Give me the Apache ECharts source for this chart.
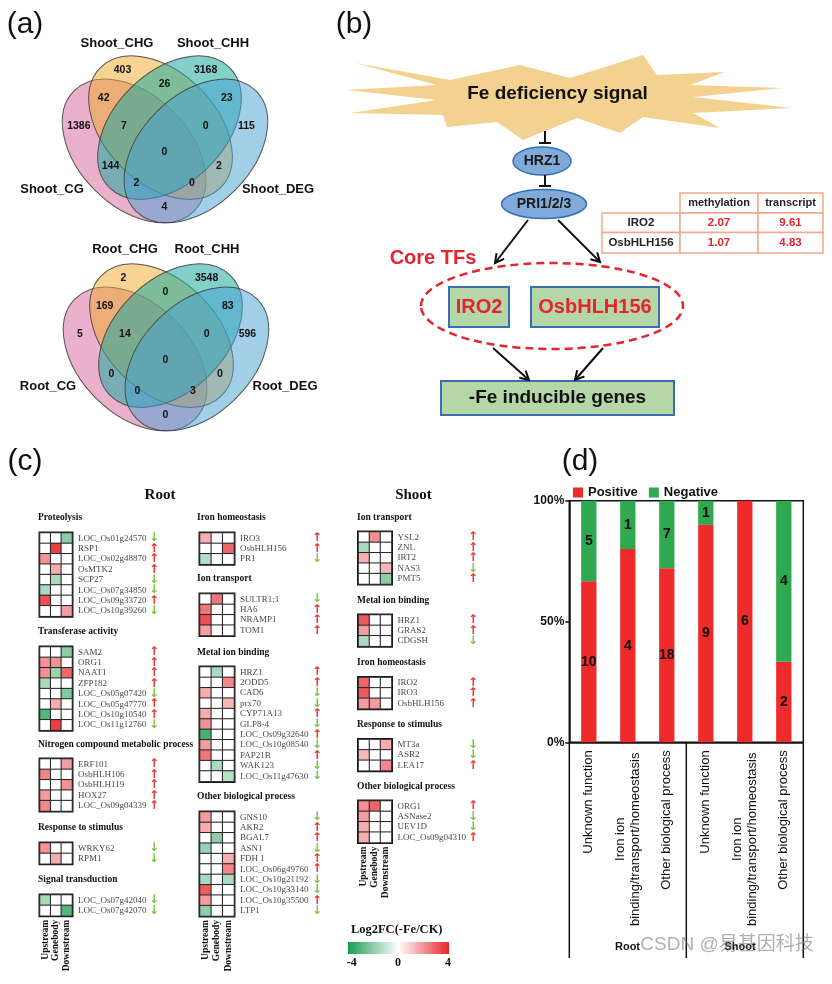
<!DOCTYPE html>
<html><head><meta charset="utf-8">
<script src="https://cdn.jsdelivr.net/npm/echarts/dist/echarts.min.js"></script>
<style>html,body{margin:0;padding:0;background:#fff}#c{width:832px;height:984px}</style>
</head><body><div id="c"></div>
<script>
// ================= DATA =================
// (a) Venn diagrams: region order = CHG, CHH, CHG&CHH, CG&CHG, CHH&DEG, CG, CG&CHG&CHH, CHG&CHH&DEG, DEG, all, CG&CHH, CHG&DEG, CG&CHH&DEG, CG&CHG&DEG, CG&DEG
const vennSetsShoot = ['Shoot_CG', 'Shoot_CHG', 'Shoot_CHH', 'Shoot_DEG'];
const vennSetsRoot = ['Root_CG', 'Root_CHG', 'Root_CHH', 'Root_DEG'];
const vennCountsShoot = [403, 3168, 26, 42, 23, 1386, 7, 0, 115, 0, 144, 2, 2, 0, 4];
const vennCountsRoot = [2, 3548, 0, 169, 83, 5, 14, 0, 596, 0, 0, 0, 0, 3, 0];

// (b) core TF table
const coreTFs = ['IRO2', 'OsbHLH156'];
const tfMethylation = [2.07, 1.07];
const tfTranscript = [9.61, 4.83];

// (c) heatmaps: Log2FC(-Fe/CK) for Upstream, Genebody, Downstream; direction u = up, d = down
const hmColumns = ['Upstream', 'Genebody', 'Downstream'];
const rProteoGenes = ['LOC_Os01g24570', 'RSP1', 'LOC_Os02g48870', 'OsMTK2', 'SCP27', 'LOC_Os07g34850', 'LOC_Os09g33720', 'LOC_Os10g39260'];
const rProteoLfc = [[0, 0, -2], [0, 3.5, 0], [2, 0, 0], [0, 1.5, 0], [0, -1.5, 0], [-1.5, 0, 0], [3.2, 0, 0], [0, 0, 1.8]];
const rProteoDir = 'duuuddud';
const rTransfGenes = ['SAM2', 'ORG1', 'NAAT1', 'ZFP182', 'LOC_Os05g07420', 'LOC_Os05g47770', 'LOC_Os10g10540', 'LOC_Os11g12760'];
const rTransfLfc = [[0, 0, -2], [2, 2, 0], [2, -1.8, 2.8], [-1.5, 0, 0], [0, 0, -2.2], [0, 1.5, 0], [-3, 0, 0], [0, 3.5, 0]];
const rTransfDir = 'uuuuduud';
const rNitroGenes = ['ERF101', 'OsbHLH106', 'OsbHLH119', 'HOX27', 'LOC_Os09g04339'];
const rNitroLfc = [[0, 0, 1.8], [2.2, 0, 0], [0, 0, 2], [1.8, 0, 0], [2.2, 0, 0]];
const rNitroDir = 'uuuuu';
const rRespGenes = ['WRKY62', 'RPM1'];
const rRespLfc = [[2, 0, 0], [0, 1.5, 0]];
const rRespDir = 'dd';
const rSignalGenes = ['LOC_Os07g42040', 'LOC_Os07g42070'];
const rSignalLfc = [[-1.5, 0, 0], [0, 0, -3]];
const rSignalDir = 'dd';
const rIronGenes = ['IRO3', 'OsbHLH156', 'PR1'];
const rIronLfc = [[1.5, 0, 0], [0, 0, 2.8], [-1.3, 0, 0]];
const rIronDir = 'uud';
const rIonGenes = ['SULTR1;1', 'HA6', 'NRAMP1', 'TOM1'];
const rIonLfc = [[0, 2.5, 0], [2.5, 0, 0], [3.2, 0, 0], [1.8, 0, 0]];
const rIonDir = 'duuu';
const rMetalGenes = ['HRZ1', '2ODD5', 'CAD6', 'prx70', 'CYP71A13', 'GLP8-4', 'LOC_Os09g32640', 'LOC_Os10g08540', 'PAP21B', 'WAK123', 'LOC_Os11g47630'];
const rMetalLfc = [[0, -1.5, 0], [0, 0, 2.2], [1.5, 0, 0], [0, 0, 1.3], [1.5, 0, 0], [2, 0, 0], [-3.2, 0, 0], [1.8, 0, 0], [2.5, 0, 0], [0, -1.5, 0], [0, 0, -1.3]];
const rMetalDir = 'uuddudududd';
const rOtherGenes = ['GNS10', 'AKR2', 'BGAL7', 'ASN1', 'FDH 1', 'LOC_Os06g49760', 'LOC_Os10g21192', 'LOC_Os10g33140', 'LOC_Os10g35500', 'LTP1'];
const rOtherLfc = [[1.8, 0, 0], [1.5, 0, 0], [0, -2, 0], [-1.8, 0, 0], [0, 0, 1.5], [0, 0, 2.2], [-1.5, 0, -1.5], [3, 0, 0], [1.8, 0, 0], [-2, 0, 0]];
const rOtherDir = 'duuduuddud';
const sIonGenes = ['YSL2', 'ZNL', 'IRT2', 'NAS3', 'PMT5'];
const sIonLfc = [[0, 2, 0], [-1.5, 0, 0], [1.5, 0, 0], [0, 0, 1.3], [0, 0, -2]];
const sIonDir = 'uuudu';
const sMetalGenes = ['HRZ1', 'GRAS2', 'CDGSH'];
const sMetalLfc = [[3, 0, 0], [1.8, 0, 0], [-1.5, 0, 0]];
const sMetalDir = 'uud';
const sIronGenes = ['IRO2', 'IRO3', 'OsbHLH156'];
const sIronLfc = [[2.8, 0, 0], [3, 0, 0], [1.8, 1.8, 0]];
const sIronDir = 'uuu';
const sRespGenes = ['MT3a', 'ASR2', 'LEA17'];
const sRespLfc = [[0, 0, 1.5], [1.3, 0, 0], [0, 0, 2.2]];
const sRespDir = 'ddu';
const sOtherGenes = ['ORG1', 'ASNase2', 'UEV1D', 'LOC_Os09g04310'];
const sOtherLfc = [[2, 2.8, 0], [1.8, 0, 0], [1.5, 0, 0], [1.5, 0, 0]];
const sOtherDir = 'uddu';

// (d) stacked percentage bars
const dCategories = ['Unknown function', 'Iron ion\nbinding/transport/homeostasis', 'Other biological process', 'Unknown function', 'Iron ion\nbinding/transport/homeostasis', 'Other biological process'];
const dGroups = ['Root', 'Shoot'];
const dPositive = [10, 4, 18, 9, 6, 2];
const dNegative = [5, 1, 7, 1, 0, 4];
const dYTicks = [0, 50, 100];

// ================= LAYOUT / STYLE =================
const SANS = '"Liberation Sans", Arial, sans-serif';
const SERIF = '"Liberation Serif", "Times New Roman", serif';
const RED = '#e3262d';

const vennEllipses = [[0.369, 0.462, -1], [0.481, 0.561, -1], [0.519, 0.561, 1], [0.631, 0.462, 1]];
const vennAxes = [0.36, 0.235];
const vennFill = ['rgba(210,80,140,0.45)', 'rgba(240,170,40,0.5)', 'rgba(30,170,160,0.55)', 'rgba(70,160,210,0.5)'];
const vennRegionPos = [[0.32, 0.804], [0.672, 0.804], [0.498, 0.745], [0.24, 0.688], [0.762, 0.688], [0.135, 0.568], [0.326, 0.568], [0.672, 0.568], [0.845, 0.568], [0.498, 0.456], [0.269, 0.399], [0.729, 0.399], [0.379, 0.325], [0.614, 0.325], [0.498, 0.224]];
const vennGrids = [{left: 47, top: 24, width: 236, height: 236}, {left: 48, top: 232, width: 236, height: 236}];
const vennSetPosShoot = [[52, 189], [117, 43], [213, 43], [278, 189]];
const vennSetPosRoot = [[48, 386], [125, 249], [207, 249], [285, 386]];

const hmCols = [
  {left: 40, width: 32, titleX: 38, nameW: 72},
  {left: 200, width: 34, titleX: 197, nameW: 73},
  {left: 358.5, width: 33, titleX: 357, nameW: 71.5}
];
const rowH = 10.4;
const blocks = [
  {col: 0, title: 'Proteolysis', genes: rProteoGenes, lfc: rProteoLfc, dir: rProteoDir, titleY: 518, top: 533},
  {col: 0, title: 'Transferase activity', genes: rTransfGenes, lfc: rTransfLfc, dir: rTransfDir, titleY: 632, top: 647},
  {col: 0, title: 'Nitrogen compound metabolic process', genes: rNitroGenes, lfc: rNitroLfc, dir: rNitroDir, titleY: 745, top: 759},
  {col: 0, title: 'Response to stimulus', genes: rRespGenes, lfc: rRespLfc, dir: rRespDir, titleY: 828, top: 843},
  {col: 0, title: 'Signal transduction', genes: rSignalGenes, lfc: rSignalLfc, dir: rSignalDir, titleY: 880, top: 895, last: true},
  {col: 1, title: 'Iron homeostasis', genes: rIronGenes, lfc: rIronLfc, dir: rIronDir, titleY: 518, top: 533},
  {col: 1, title: 'Ion transport', genes: rIonGenes, lfc: rIonLfc, dir: rIonDir, titleY: 579, top: 594},
  {col: 1, title: 'Metal ion binding', genes: rMetalGenes, lfc: rMetalLfc, dir: rMetalDir, titleY: 653, top: 667},
  {col: 1, title: 'Other biological process', genes: rOtherGenes, lfc: rOtherLfc, dir: rOtherDir, titleY: 797, top: 812, last: true},
  {col: 2, title: 'Ion transport', genes: sIonGenes, lfc: sIonLfc, dir: sIonDir, titleY: 518, top: 532},
  {col: 2, title: 'Metal ion binding', genes: sMetalGenes, lfc: sMetalLfc, dir: sMetalDir, titleY: 601, top: 615},
  {col: 2, title: 'Iron homeostasis', genes: sIronGenes, lfc: sIronLfc, dir: sIronDir, titleY: 663, top: 677.5},
  {col: 2, title: 'Response to stimulus', genes: sRespGenes, lfc: sRespLfc, dir: sRespDir, titleY: 725, top: 739.5},
  {col: 2, title: 'Other biological process', genes: sOtherGenes, lfc: sOtherLfc, dir: sOtherDir, titleY: 787, top: 801, last: true}
];

// ================= BUILD =================
const chart = echarts.init(document.getElementById('c'), null, {renderer: 'canvas', width: 832, height: 984});
const grids = [], xAxes = [], yAxes = [], series = [], g = [];

function T(x, y, text, font, fill, align, vAlign, extra) {
  g.push(Object.assign({type: 'text', x: x, y: y, z: 10, silent: true, style: {
    text: text, font: font, fill: fill || '#111',
    textAlign: align || 'center', align: align || 'center',
    textVerticalAlign: vAlign || 'middle', verticalAlign: vAlign || 'middle'
  }}, extra || {}));
}
function L(x1, y1, x2, y2, w, c) {
  g.push({type: 'line', z: 10, silent: true, shape: {x1: x1, y1: y1, x2: x2, y2: y2}, style: {stroke: c || '#111', lineWidth: w || 1.5}});
}
function arrow(x1, y1, x2, y2) {
  L(x1, y1, x2, y2, 2);
  const a = Math.atan2(y2 - y1, x2 - x1), len = 10, w = 0.5;
  g.push({type: 'polyline', z: 10, silent: true, shape: {points: [
    [x2 - len * Math.cos(a - w), y2 - len * Math.sin(a - w)], [x2, y2],
    [x2 - len * Math.cos(a + w), y2 - len * Math.sin(a + w)]]},
    style: {stroke: '#111', lineWidth: 2, fill: null}});
}

// ---- (a) Venn ----
function addVenn(gi, counts, sets, setPos) {
  grids.push(Object.assign({}, vennGrids[gi]));
  xAxes.push({type: 'value', gridIndex: gi, min: 0, max: 1, show: false});
  yAxes.push({type: 'value', gridIndex: gi, min: 0, max: 1, show: false});
  series.push({
    type: 'custom', xAxisIndex: gi, yAxisIndex: gi, silent: true, z: 2,
    data: vennEllipses.map((e, i) => [e[0], e[1], vennAxes[0], vennAxes[1], e[2], i]),
    renderItem: (p, api) => {
      const c = api.coord([api.value(0), api.value(1)]);
      const s = api.size([api.value(2), api.value(3)]);
      return {type: 'ellipse', x: c[0], y: c[1], rotation: api.value(4) * Math.PI / 4,
        shape: {cx: 0, cy: 0, rx: s[0], ry: s[1]},
        style: {fill: vennFill[api.value(5)], stroke: 'rgba(60,60,60,0.85)', lineWidth: 1}};
    }
  });
  series.push({
    type: 'custom', xAxisIndex: gi, yAxisIndex: gi, silent: true, z: 3,
    data: counts.map((c, i) => [vennRegionPos[i][0], vennRegionPos[i][1], c]),
    renderItem: (p, api) => {
      const c = api.coord([api.value(0), api.value(1)]);
      return {type: 'text', x: c[0], y: c[1], style: {text: String(api.value(2)),
        font: 'bold 10.5px ' + SANS, fill: '#111', textAlign: 'center', align: 'center',
        textVerticalAlign: 'middle', verticalAlign: 'middle'}};
    }
  });
  sets.forEach((s, i) => T(setPos[i][0], setPos[i][1], s, 'bold 13px ' + SANS));
}
addVenn(0, vennCountsShoot, vennSetsShoot, vennSetPosShoot);
addVenn(1, vennCountsRoot, vennSetsRoot, vennSetPosRoot);

// ---- (c) heatmaps ----
const hmSeriesIdx = [];
blocks.forEach((b) => {
  const gi = grids.length;
  const col = hmCols[b.col];
  grids.push({left: col.left, top: b.top, width: col.width, height: b.genes.length * rowH,
    show: true, borderColor: '#1a1a1a', borderWidth: 3, backgroundColor: '#fff'});
  xAxes.push({type: 'category', gridIndex: gi, data: hmColumns, position: 'bottom',
    axisLine: {show: false}, axisTick: {show: false}, splitLine: {show: false},
    axisLabel: {show: !!b.last, interval: 0, rotate: 90, margin: 4, fontFamily: SERIF, fontWeight: 'bold', fontSize: 9.5, color: '#111'}});
  const dirs = b.dir;
  yAxes.push({type: 'category', gridIndex: gi, data: b.genes, inverse: true, position: 'right',
    axisLine: {show: false}, axisTick: {show: false}, splitLine: {show: false},
    axisLabel: {interval: 0, margin: 6,
      formatter: (v, i) => '{n|' + v + '}{' + dirs[i] + '|' + (dirs[i] === 'u' ? '\u2191' : '\u2193') + '}',
      rich: {
        n: {width: col.nameW - 1, fontFamily: SERIF, fontSize: 9, color: '#4a4a4a', align: 'left'},
        u: {fontFamily: '"DejaVu Sans"', fontSize: 12, fontWeight: 'bold', color: '#f2302c'},
        d: {fontFamily: '"DejaVu Sans"', fontSize: 12, fontWeight: 'bold', color: '#7cc242'}
      }}});
  const data = [];
  b.lfc.forEach((row, r) => row.forEach((v, c) => data.push([c, r, v])));
  hmSeriesIdx.push(series.length);
  series.push({type: 'heatmap', xAxisIndex: gi, yAxisIndex: gi, data: data, silent: true,
    itemStyle: {borderColor: '#222', borderWidth: 1}, emphasis: {disabled: true}});
  T(col.titleX, b.titleY, b.title, 'bold 9.5px ' + SERIF, '#111', 'left');
});
T(160, 495, 'Root', 'bold 15px ' + SERIF);
T(413.5, 495, 'Shoot', 'bold 15px ' + SERIF);
// colour legend
T(396.7, 930, 'Log2FC(-Fe/CK)', 'bold 12.5px ' + SERIF);
g.push({type: 'rect', z: 10, silent: true, shape: {x: 348, y: 942, width: 101, height: 12},
  style: {fill: new echarts.graphic.LinearGradient(0, 0, 1, 0, [
    {offset: 0, color: '#1a9d4f'}, {offset: 0.5, color: '#ffffff'}, {offset: 1, color: '#e8232a'}])}});
T(351.7, 963, '-4', 'bold 12px ' + SERIF);
T(398, 963, '0', 'bold 12px ' + SERIF);
T(448, 963, '4', 'bold 12px ' + SERIF);

// ---- (d) stacked bar ----
const bi = grids.length;
grids.push({left: 569.3, top: 500.7, width: 234, height: 241.6, show: true, borderColor: '#111', borderWidth: 1.5});
xAxes.push({type: 'category', gridIndex: bi, data: dCategories.map((_, i) => 'c' + i),
  axisLine: {lineStyle: {color: '#111', width: 1.5}}, axisTick: {show: false},
  axisLabel: {interval: 0, rotate: 90, margin: 8, fontSize: 13, fontFamily: SANS, color: '#111',
    formatter: (v, i) => {
      const t = dCategories[i];
      return t.indexOf('\n') >= 0 ? t.split('\n').map(s => '{c|' + s + '}').join('\n') : t;
    },
    rich: {c: {width: 178, align: 'center', fontSize: 13, fontFamily: SANS, color: '#111', lineHeight: 15}}}});
yAxes.push({type: 'value', gridIndex: bi, min: dYTicks[0], max: dYTicks[2], interval: dYTicks[1] - dYTicks[0],
  axisLine: {show: true, lineStyle: {color: '#111', width: 1.5}},
  axisTick: {show: true, length: 4, lineStyle: {color: '#111', width: 1.5}},
  splitLine: {show: false},
  axisLabel: {formatter: '{value}%', fontWeight: 'bold', fontSize: 12, fontFamily: SANS, color: '#111', margin: 5}});
const dTotals = dPositive.map((p, i) => p + dNegative[i]);
[['Positive', dPositive, '#ee2a2a'], ['Negative', dNegative, '#2fa84f']].forEach(([name, arr, color]) => {
  series.push({name: name, type: 'bar', stack: 'pct', xAxisIndex: bi, yAxisIndex: bi, barWidth: 15.3,
    itemStyle: {color: color}, silent: true,
    data: arr.map((v, i) => v / dTotals[i] * 100),
    label: {show: true, position: 'inside', fontWeight: 'bold', fontSize: 14, fontFamily: SANS, color: '#111',
      formatter: p => arr[p.dataIndex] ? String(arr[p.dataIndex]) : ''}});
});
L(569.3, 742.3, 569.3, 958);
L(686.3, 742.3, 686.3, 958);
L(803.3, 742.3, 803.3, 958);
T(627.5, 947, dGroups[0], 'bold 11px ' + SANS);
T(740, 947, dGroups[1], 'bold 11px ' + SANS);
T(727, 945, 'CSDN @易基因科技', '19px "Liberation Sans", "Noto Sans CJK SC", sans-serif', 'rgba(110,110,110,0.55)', 'center', 'middle', {z: 20});

// ---- (b) pathway diagram ----
const starburst = [[347, 90], [437, 85], [355, 63], [450, 80], [520, 65], [570, 78], [643, 55], [657, 75], [725, 72], [690, 85], [782, 88], [693, 97], [792, 108], [693, 113], [720, 128], [643, 117], [620, 133], [577, 118], [523, 140], [497, 122], [447, 127], [443, 115], [350, 113], [437, 100]];
g.push({type: 'polygon', z: 5, silent: true, shape: {points: starburst}, style: {fill: '#f3d18e'}});
T(557.5, 94, 'Fe deficiency signal', 'bold 19px ' + SANS);
// inhibitions
L(545, 131, 545, 143, 2); L(539, 143, 551, 143, 2);
L(545, 175, 545, 186, 2); L(539, 186, 551, 186, 2);
g.push({type: 'ellipse', z: 5, silent: true, shape: {cx: 542, cy: 161, rx: 29, ry: 14}, style: {fill: '#82aad9', stroke: '#2f6fba', lineWidth: 1.5}});
T(542, 161, 'HRZ1', 'bold 14px ' + SANS, '#1a1a1a');
g.push({type: 'ellipse', z: 5, silent: true, shape: {cx: 544, cy: 204, rx: 42.5, ry: 14.5}, style: {fill: '#82aad9', stroke: '#2f6fba', lineWidth: 1.5}});
T(544, 204, 'PRI1/2/3', 'bold 14px ' + SANS, '#1a1a1a');
arrow(528, 220, 495, 263);
arrow(558, 220, 600, 262);
T(433, 258, 'Core TFs', 'bold 20px ' + SANS, RED);
g.push({type: 'ellipse', z: 5, silent: true, shape: {cx: 552, cy: 306, rx: 131, ry: 43}, style: {fill: null, stroke: RED, lineWidth: 2.5, lineDash: [8, 5]}});
g.push({type: 'rect', z: 6, silent: true, shape: {x: 449, y: 287, width: 60, height: 40}, style: {fill: '#b5d6a7', stroke: '#3b6db3', lineWidth: 2}});
g.push({type: 'rect', z: 6, silent: true, shape: {x: 531, y: 287, width: 128, height: 40}, style: {fill: '#b5d6a7', stroke: '#3b6db3', lineWidth: 2}});
T(479, 307, coreTFs[0], 'bold 20px ' + SANS, RED);
T(595, 307, coreTFs[1], 'bold 20px ' + SANS, RED);
arrow(493, 348, 529, 380);
arrow(603, 348, 575, 380);
g.push({type: 'rect', z: 6, silent: true, shape: {x: 441, y: 381, width: 233, height: 34}, style: {fill: '#b5d6a7', stroke: '#3b6db3', lineWidth: 2}});
T(557.5, 398, '-Fe inducible genes', 'bold 19px ' + SANS);
// table
const tx = [602, 680, 758, 823], ty = [193, 213, 232.5, 253];
const cellStyle = {fill: '#fff', stroke: '#f2a98a', lineWidth: 1.5};
[[1, 0], [2, 0], [0, 1], [1, 1], [2, 1], [0, 2], [1, 2], [2, 2]].forEach(([c, r]) => {
  g.push({type: 'rect', z: 6, silent: true, shape: {x: tx[c], y: ty[r], width: tx[c + 1] - tx[c], height: ty[r + 1] - ty[r]}, style: cellStyle});
});
const cx = [0, 1, 2].map(c => (tx[c] + tx[c + 1]) / 2), cy = [0, 1, 2].map(r => (ty[r] + ty[r + 1]) / 2);
T(cx[1], cy[0], 'methylation', 'bold 11px ' + SANS, '#222');
T(cx[2], cy[0], 'transcript', 'bold 11px ' + SANS, '#222');
coreTFs.forEach((n, i) => {
  T(cx[0], cy[i + 1], n, 'bold 11.5px ' + SANS, '#222');
  T(cx[1], cy[i + 1], tfMethylation[i].toFixed(2), 'bold 11.5px ' + SANS, RED);
  T(cx[2], cy[i + 1], tfTranscript[i].toFixed(2), 'bold 11.5px ' + SANS, RED);
});

// panel letters
T(25, 25, '(a)', '30px ' + SANS);
T(354, 25, '(b)', '30px ' + SANS);
T(25, 462, '(c)', '30px ' + SANS);
T(580, 462, '(d)', '30px ' + SANS);

chart.setOption({
  animation: false,
  backgroundColor: '#fff',
  grid: grids, xAxis: xAxes, yAxis: yAxes,
  visualMap: {type: 'continuous', show: false, min: -4, max: 4, dimension: 2, seriesIndex: hmSeriesIdx,
    inRange: {color: ['#1a9d4f', '#ffffff', '#e8232a']}},
  legend: {data: ['Positive', 'Negative'], left: 568, top: 481, icon: 'rect', itemWidth: 10, itemHeight: 10, itemGap: 11,
    textStyle: {fontWeight: 'bold', fontSize: 13, fontFamily: SANS, color: '#111'}, selectedMode: false},
  series: series,
  graphic: {elements: g}
});
</script></body></html>
